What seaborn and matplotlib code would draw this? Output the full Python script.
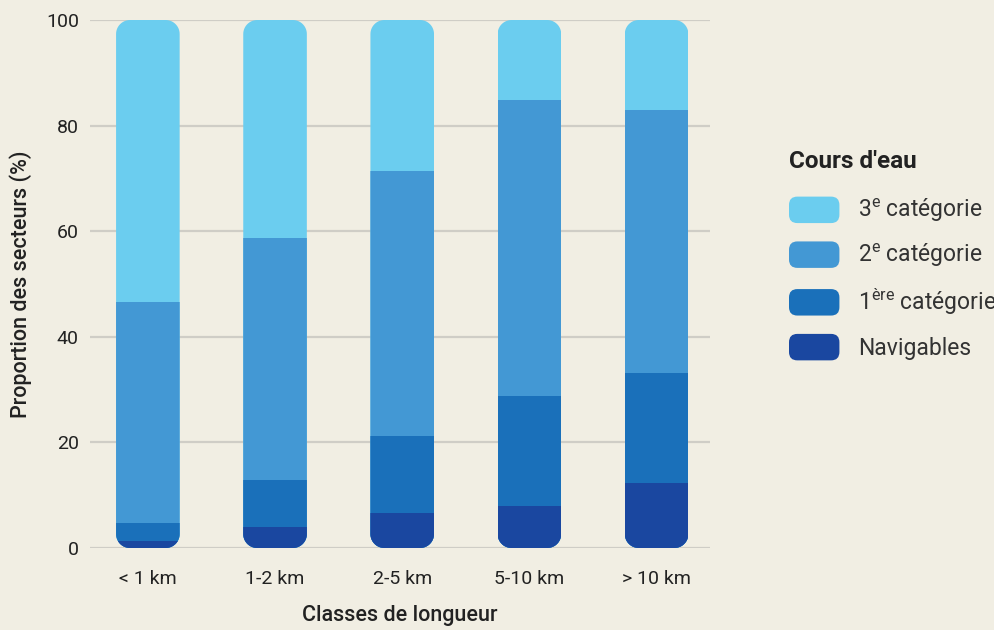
import numpy as np
import pandas as pd
import matplotlib
matplotlib.use("Agg")
import matplotlib.pyplot as plt
import seaborn as sns
from matplotlib.patches import FancyBboxPatch, Patch
from matplotlib.legend_handler import HandlerPatch
from matplotlib.transforms import IdentityTransform
from matplotlib.path import Path

# data (percent of sectors)
classes = ["< 1 km", "1-2 km", "2-5 km", "5-10 km", "> 10 km"]
navigables = [1.3, 4.0, 6.6, 8.0, 12.3]
cat1 = [3.4, 8.9, 14.6, 20.8, 20.8]
cat2 = [41.9, 45.8, 50.2, 56.0, 49.9]
cat3 = [53.4, 41.3, 28.6, 15.2, 17.0]

series_names = ["Navigables", "1ère catégorie", "2e catégorie", "3e catégorie"]
legend_labels = ["Navigables", "1$^{\\mathrm{ère}}$ catégorie",
                 "2$^{\\mathrm{e}}$ catégorie", "3$^{\\mathrm{e}}$ catégorie"]
colors = ["#1a47a0", "#1a70ba", "#4398d4", "#6bcdef"]

bg = "#f1eee3"
txt = "#222222"

sns.set_theme(style="white")
plt.rcParams["font.family"] = ["Roboto", "DejaVu Sans"]
plt.rcParams["mathtext.fontset"] = "custom"
plt.rcParams["mathtext.rm"] = "Roboto"
plt.rcParams["mathtext.it"] = "Roboto"

df = pd.DataFrame({"classe": classes, "Navigables": navigables,
                   "1ère catégorie": cat1, "2e catégorie": cat2, "3e catégorie": cat3})
cum = df[series_names].cumsum(axis=1)
cum["classe"] = df["classe"]

fig = plt.figure(figsize=(9.95, 6.3), dpi=100, facecolor=bg)
ax = fig.add_axes([90 / 995, 82 / 630, 620 / 995, 528 / 630])
ax.set_facecolor(bg)

# stacked bars: draw cumulative totals from the top layer down
for name, col in zip(series_names[::-1], colors[::-1]):
    sns.barplot(data=cum, x="classe", y=name, order=classes, color=col,
                width=0.5, saturation=1, ax=ax, linewidth=0, zorder=3)

ax.set_ylim(0, 100)
ax.set_xlim(-0.455, 4.42)
ax.set_yticks([0, 20, 40, 60, 80, 100])
ax.grid(axis="y", color="#cfcdc6", linewidth=1.6, zorder=0)
ax.set_axisbelow(True)
for s in ax.spines.values():
    s.set_visible(False)
ax.tick_params(axis="x", length=0, pad=16, labelsize=14, labelcolor=txt)
ax.tick_params(axis="y", length=0, pad=8, labelsize=14, labelcolor=txt)
ax.set_xlabel("Classes de longueur", fontsize=15.5, fontweight="medium", color=txt, labelpad=12)
ax.set_ylabel("Proportion des secteurs (%)", fontsize=15.5, fontweight="medium", color=txt, labelpad=10)


def round_rect(x0, y0, x1, y1, r, k=16):
    # closed outline with circular corners, in pixels
    pts = []
    corners = [(x1 - r, y0 + r, -90), (x1 - r, y1 - r, 0),
               (x0 + r, y1 - r, 90), (x0 + r, y0 + r, 180)]
    for cx, cy, a in corners:
        t = np.radians(np.linspace(a, a + 90, k))
        pts.extend(zip(cx + r * np.cos(t), cy + r * np.sin(t)))
    pts.append(pts[0])
    return Path(pts, closed=True)


# round the ends of each whole stack
fig.canvas.draw()
n = len(classes)
top_layer = ax.patches[:n]
for i, p in enumerate(top_layer):
    bb = p.get_window_extent()
    clip = round_rect(bb.x0, bb.y0, bb.x1, bb.y1, 14)
    for k in range(len(series_names)):
        ax.patches[k * n + i].set_clip_path(clip, IdentityTransform())


def rounded(legend, orig_handle, xdescent, ydescent, width, height, fontsize):
    return FancyBboxPatch((-xdescent, -ydescent), width, height,
                          boxstyle="round,pad=0,rounding_size=6",
                          facecolor=orig_handle.get_facecolor(),
                          edgecolor="none", linewidth=0)


class RoundPatchHandler(HandlerPatch):
    def update_prop(self, legend_handle, orig_handle, legend):
        pass


handles = [Patch(facecolor=c, edgecolor="none", linewidth=0) for c in colors[::-1]]
leg = ax.legend(handles, legend_labels[::-1], title="Cours d'eau",
                loc="upper left", bbox_to_anchor=(789 / 995, 1 - 150 / 630),
                bbox_transform=fig.transFigure, frameon=False, fontsize=16.5,
                title_fontproperties={"size": 17.5, "weight": "bold"},
                handlelength=2.2, handleheight=1.4, handletextpad=0.8,
                labelspacing=0.74, borderpad=0, borderaxespad=0,
                alignment="left",
                handler_map={Patch: RoundPatchHandler(patch_func=rounded)})
leg.get_title().set_color(txt)
leg._legend_box.sep = 17
for t in leg.get_texts():
    t.set_color("#333333")

fig.savefig("out.png", dpi=100, facecolor=bg)
